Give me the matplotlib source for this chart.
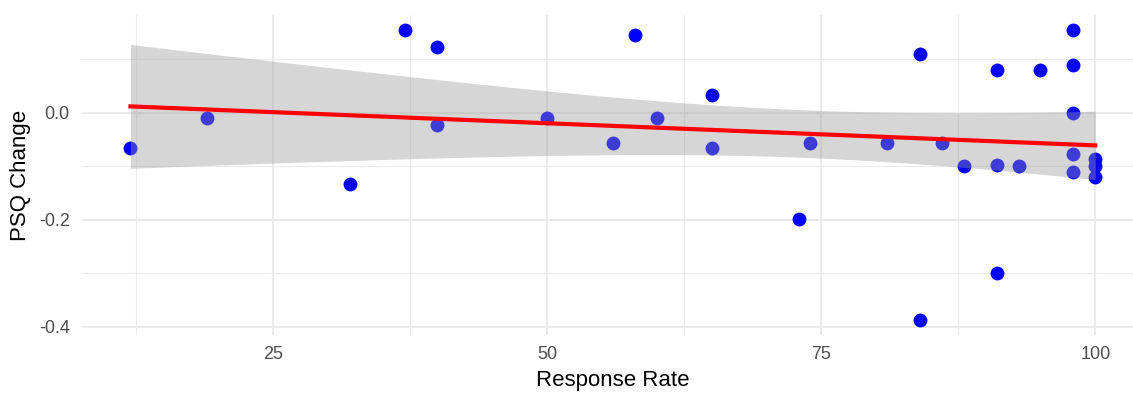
import math
import numpy as np
import matplotlib
matplotlib.use("Agg")
import matplotlib.pyplot as plt
from matplotlib.ticker import FixedLocator

plt.rcParams["font.family"] = ["Liberation Sans", "DejaVu Sans"]

# data
response_rate = [12, 19, 32, 37, 40, 40, 50, 56, 58, 60, 65, 65, 73, 74, 81, 84,
                 84, 86, 88, 91, 91, 91, 93, 95, 98, 98, 98, 98, 98, 100, 100, 100]
psq_change = [-0.065, -0.010, -0.133, 0.156, 0.123, -0.022, -0.009, -0.056,
              0.145, -0.010, 0.034, -0.065, -0.199, -0.056, -0.056, 0.110,
              -0.388, -0.056, -0.099, 0.080, -0.097, -0.300, -0.099, 0.080,
              0.156, 0.089, 0.000, -0.077, -0.111, -0.086, -0.099, -0.120]
x_ticks = [25, 50, 75, 100]
x_minor = [12.5, 37.5, 62.5, 87.5]
y_ticks = [0.0, -0.2, -0.4]
y_minor = [0.1, -0.1, -0.3]

x = np.array(response_rate, float)
y = np.array(psq_change, float)
n = len(x)


def t_quantile(p, df):
    # numeric inverse of the student t cdf, good enough for a band
    c = math.gamma((df + 1) / 2) / (math.sqrt(df * math.pi) * math.gamma(df / 2))
    g = np.linspace(0, 10, 200001)
    pdf = c * (1 + g**2 / df) ** (-(df + 1) / 2)
    cdf = 0.5 + np.concatenate([[0], np.cumsum((pdf[1:] + pdf[:-1]) / 2 * np.diff(g))])
    return np.interp(p, cdf, g)


# lm fit + 95% confidence band (like geom_smooth(method="lm"))
b1, b0 = np.polyfit(x, y, 1)
resid = y - (b0 + b1 * x)
s = np.sqrt(np.sum(resid**2) / (n - 2))
xs = np.linspace(x.min(), x.max(), 80)
fit = b0 + b1 * xs
se = s * np.sqrt(1 / n + (xs - x.mean())**2 / np.sum((x - x.mean())**2))
tq = t_quantile(0.975, n - 2)

W, H = 1133, 394
fig = plt.figure(figsize=(W / 100, H / 100), dpi=100)
ax = fig.add_axes([82.2 / W, 59 / H, 1061.3 / W, 320 / H])

ax.scatter(x, y, s=100, color="#0000FF", linewidths=0, zorder=2)
ax.fill_between(xs, fit - tq * se, fit + tq * se, color="#999999", alpha=0.4,
                linewidth=0, zorder=3)
ax.plot(xs, fit, color="#FF0000", lw=3, zorder=4)

xr = x.max() - x.min()
yr = y.max() - y.min()
ax.set_xlim(x.min() - 0.05 * xr, x.max() + 0.05 * xr)
ax.set_ylim(y.min() - 0.05 * yr, y.max() + 0.05 * yr)

ax.xaxis.set_major_locator(FixedLocator(x_ticks))
ax.xaxis.set_minor_locator(FixedLocator(x_minor))
ax.yaxis.set_major_locator(FixedLocator(y_ticks))
ax.yaxis.set_minor_locator(FixedLocator(y_minor))
ax.set_xticklabels([str(v) for v in x_ticks])
ax.set_yticklabels([f"{v:.1f}".replace("\u2212", "-") for v in y_ticks])

ax.grid(which="major", color="#EBEBEB", lw=1.5)
ax.grid(which="minor", color="#EBEBEB", lw=0.8)
ax.set_axisbelow(True)
for sp in ax.spines.values():
    sp.set_visible(False)
ax.tick_params(which="both", length=0)
ax.tick_params(axis="both", labelsize=13, labelcolor="#4D4D4D")
ax.tick_params(axis="x", pad=8)
ax.tick_params(axis="y", pad=9)

ax.set_xlabel("Response Rate", fontsize=16, color="black")
ax.xaxis.set_label_coords(0.5, -(380.7 - 335) / 320)
ax.xaxis.label.set_va("center")
ax.set_ylabel("PSQ Change", fontsize=16, color="black", va="center")
ax.yaxis.set_label_coords(-(82.2 - 20) / 1061.3, 0.5)

fig.savefig("out.png", dpi=100)
